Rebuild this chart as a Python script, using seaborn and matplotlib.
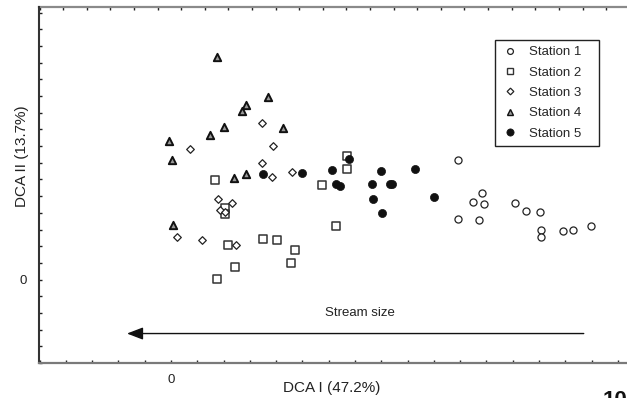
import numpy as np
import pandas as pd
import matplotlib
matplotlib.use("Agg")
import matplotlib.pyplot as plt
from matplotlib.lines import Line2D
import seaborn as sns

sns.set_style("white")
plt.rcParams['font.family'] = ['Liberation Sans', 'DejaVu Sans']

# ---- data (DCA scores) ----
st1_x = [5.46, 5.92, 5.74, 5.96, 6.55, 6.76, 7.02, 5.46, 5.86, 7.03, 7.03, 7.46, 7.65, 7.98]
st1_y = [3.57, 2.60, 2.34, 2.28, 2.30, 2.07, 2.04, 1.83, 1.80, 1.50, 1.27, 1.47, 1.50, 1.60]

st2_x = [0.84, 2.87, 1.03, 1.03, 1.08, 1.75, 2.01, 2.36, 2.28, 1.22, 0.87, 3.34, 3.34, 3.14]
st2_y = [2.99, 2.83, 2.15, 1.96, 1.04, 1.22, 1.19, 0.88, 0.51, 0.37, 0.02, 3.69, 3.32, 1.62]

st3_x = [1.74, 0.37, 1.94, 1.74, 1.93, 2.31, 0.89, 1.17, 0.93, 1.03, 0.11, 0.59, 1.24]
st3_y = [4.70, 3.91, 3.99, 3.50, 3.08, 3.23, 2.42, 2.31, 2.09, 2.04, 1.28, 1.19, 1.04]

st4_x = [0.88, 1.85, 1.43, 1.36, 1.01, 2.13, 0.75, -0.03, 0.01, 1.20, 1.43, 0.03]
st4_y = [6.67, 5.47, 5.22, 5.05, 4.57, 4.55, 4.34, 4.16, 3.58, 3.03, 3.15, 1.63]

st5_x = [1.75, 2.50, 3.39, 3.07, 3.99, 4.64, 3.14, 3.21, 3.83, 4.16, 4.21, 3.85, 5.01, 4.01]
st5_y = [3.17, 3.19, 3.61, 3.29, 3.26, 3.32, 2.87, 2.82, 2.87, 2.87, 2.87, 2.43, 2.48, 2.01]

stations = ["Station 1", "Station 2", "Station 3", "Station 4", "Station 5"]
xs = [st1_x, st2_x, st3_x, st4_x, st5_x]
ys = [st1_y, st2_y, st3_y, st4_y, st5_y]

df = pd.DataFrame({
    "x": np.concatenate(xs),
    "y": np.concatenate(ys),
    "station": np.repeat(stations, [len(v) for v in xs]),
})

styles = {
    "Station 1": dict(marker="o", s=26, fc="white", ec="#222222", lw=0.9, lms=4.2),
    "Station 2": dict(marker="s", s=30, fc="white", ec="#333333", lw=1.1, lms=4.6),
    "Station 3": dict(marker="D", s=15, fc="white", ec="#222222", lw=0.9, lms=3.4),
    "Station 4": dict(marker="^", s=28, fc="#9a9a9a", ec="#111111", lw=1.4, lms=4.4),
    "Station 5": dict(marker="o", s=34, fc="#111111", ec="#111111", lw=0.5, lms=5.2),
}

fig = plt.figure(figsize=(6.27, 3.98), dpi=100)
ax = fig.add_axes([39/627, 35/398, 601/627, 356/398])

for st in stations:
    sty = styles[st]
    sns.scatterplot(data=df[df.station == st], x="x", y="y", ax=ax,
                    marker=sty["marker"], s=sty["s"], color=sty["fc"],
                    edgecolor=sty["ec"], linewidth=sty["lw"], legend=False, zorder=3)

ax.set_xlim(-2.51, 8.92)
ax.set_ylim(-2.49, 8.17)

# ticks
ax.set_xticks(np.arange(-2.5, 9.0, 0.5))
ax.set_xticklabels(["0" if abs(t) < 1e-9 else "" for t in np.arange(-2.5, 9.0, 0.5)])
ax.set_yticks(np.arange(-2.5, 8.01, 0.5))
ax.set_yticklabels(["0" if abs(t) < 1e-9 else "" for t in np.arange(-2.5, 8.01, 0.5)])
ax.tick_params(axis="both", direction="in", length=2.2, width=1.0, colors="#222222",
               labelsize=9.5, bottom=True, left=True)
ax.tick_params(axis="x", pad=8)
ax.tick_params(axis="y", pad=9)
for lab in ax.get_xticklabels() + ax.get_yticklabels():
    lab.set_color("#222222")

secax = ax.secondary_xaxis("top")
secax.set_xticks(np.arange(-2.5, 9.0, 0.449))
secax.set_xticklabels([])
secax.tick_params(direction="in", length=2.2, width=1.0, colors="#222222")
secax.spines["top"].set_color("#8a8a8a")
secax.spines["top"].set_linewidth(1.6)

ax.spines["top"].set_visible(False)
ax.spines["left"].set_color("#333333")
ax.spines["left"].set_linewidth(1.5)
ax.spines["bottom"].set_color("#7a7a7a")
ax.spines["bottom"].set_linewidth(1.6)
ax.spines["right"].set_visible(False)

ax.set_xlabel("")
ax.set_ylabel("")
fig.text(332/627, 1 - 388/398, "DCA I (47.2%)", ha="center", va="center", fontsize=11, color="#222222")
fig.text(22/627, 1 - 156/398, "DCA II (13.7%)", ha="center", va="center", rotation=90,
         fontsize=11, color="#222222")

# arrow and annotation
ax.annotate("", xy=(-0.837, -1.617), xytext=(7.85, -1.617),
            arrowprops=dict(arrowstyle="-|>,head_length=0.65,head_width=0.25",
                            mutation_scale=15, lw=1.0, color="#111111",
                            shrinkA=0, shrinkB=0))
ax.text(3.59, -0.99, "Stream size", ha="center", va="center", fontsize=9.5, color="#222222")

# legend
handles = []
for st in stations:
    sty = styles[st]
    handles.append(Line2D([0], [0], linestyle="none", marker=sty["marker"],
                          markersize=sty["lms"], markerfacecolor=sty["fc"],
                          markeredgecolor=sty["ec"], markeredgewidth=min(sty["lw"], 1.0)))
leg = ax.legend(handles, stations, loc="upper left",
                bbox_to_anchor=((495-39)/601, (363-40)/356, 104/601, 0.0),
                mode="expand", fontsize=9.5, frameon=True, fancybox=False,
                edgecolor="#222222", framealpha=1, borderpad=0.45,
                labelspacing=0.62, handlelength=1.3, handletextpad=0.85,
                borderaxespad=0)
leg.get_frame().set_linewidth(1.0)

fig.text(603/627, 1 - 390/398, "10", ha="left", va="top", fontsize=16,
         fontweight="bold", color="#111111")

fig.savefig("out.png", dpi=100)
